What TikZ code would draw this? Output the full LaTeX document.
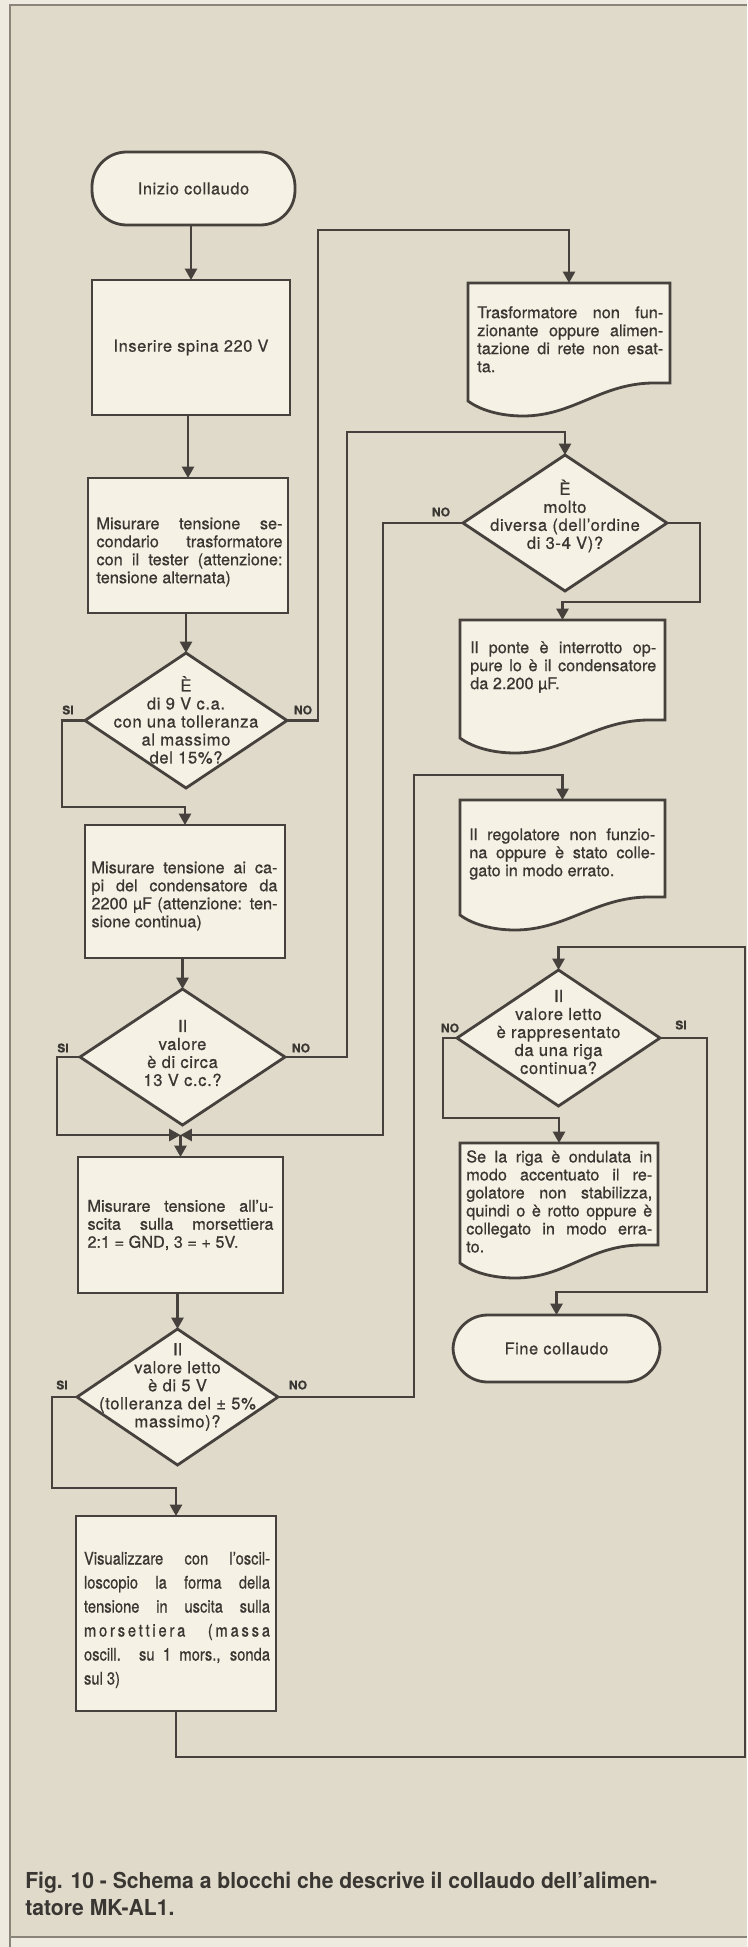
\documentclass[tikz,border=0pt]{standalone}
\usepackage{fontspec}
\setmainfont{TeX Gyre Heros}[FakeBold=0.6]
\newfontfamily\spfont{TeX Gyre Heros}[FakeBold=0.6,LetterSpace=3.5]
\newfontfamily\condfont{TeX Gyre Heros}[FakeStretch=0.85,FakeBold=0.6]
\newfontfamily\wcondfont{TeX Gyre Heros}[FakeStretch=0.85,FakeBold=0.6,LetterSpace=16]
\newfontfamily\capfont{TeX Gyre Heros}[FakeStretch=0.96]
\usetikzlibrary{arrows.meta,shapes.geometric,calc}
\definecolor{bgc}{HTML}{E0DACB}
\definecolor{edgec}{HTML}{EEEADF}
\definecolor{boxc}{HTML}{F5F1E4}
\definecolor{lc}{HTML}{46413C}
\definecolor{txc}{HTML}{3A3632}
\definecolor{framec}{HTML}{8A847A}
\newlength\tw
\setlength\tw{139.5pt}
\newcommand\jline[1]{\hbox to \tw{#1}}
\newcommand\lline[1]{\hbox to \tw{#1\hfil}}
\newcommand\txtlines[1]{\vbox{\hsize=\tw\baselineskip=13.5pt\lineskiplimit=-20pt\lineskip=0pt #1}}
\newcommand\docshape[1]{%
  \path[shapeln] (#1.north west) -- (#1.north east) -- (#1.south east)
   -- ($(#1.south east)+(-18,0)$)
   .. controls ($(#1.south east)+(-70,1)$) and ($(#1.south west)+(105,33)$) .. ($(#1.south west)+(55,33)$)
   .. controls ($(#1.south west)+(32,33)$) and ($(#1.south west)+(12,27)$) .. ($(#1.south west)+(0,18)$)
   -- cycle;}
\begin{document}
\begin{tikzpicture}[x=0.75pt,y=-0.75pt,
  sz/.style 2 args={minimum width={#1*0.75pt},minimum height={#2*0.75pt}},
  shapeln/.style={draw=lc,line width=2.1pt,fill=boxc,line join=miter},
  proc/.style={shapeln,rectangle,inner sep=0pt,outer sep=0pt,text=txc,
    font=\spfont\fontsize{12.3}{13.5}\selectfont},
  term/.style={proc,rounded corners=26pt},
  dec/.style={shapeln,diamond,inner sep=0pt,outer sep=0pt},
  ghost/.style={rectangle,inner sep=0pt,outer sep=0pt,draw=none},
  txt/.style={inner sep=0pt,text=txc,font=\fontsize{12.2}{13.5}\selectfont},
  dtxt/.style={txt,align=center,font=\spfont\fontsize{12.5}{13.5}\selectfont},
  lab/.style={inner sep=0pt,text=txc,font=\bfseries\fontsize{9}{10}\selectfont},
  ln/.style={draw=lc,line width=1.8pt},
  arr/.style={ln,-{Triangle[length=8.5pt,width=9pt]}}
]
\useasboundingbox (0,0) rectangle (747,1947);
\fill[edgec] (0,0) rectangle (747,1947);
\fill[bgc] (10,5) rectangle (747,1937);
\draw[framec,line width=0.8pt] (10,1947) -- (10,5) -- (747,5);
\draw[framec,line width=0.8pt] (10,1937) -- (747,1937);

% ---------- left column ----------
\node[term,sz={203}{73}] (t1) at (193.5,188.5) {Inizio collaudo};
\node[proc,sz={198}{135}] (b2) at (191,347.5) {Inserire spina 220 V};
\node[proc,sz={200}{135}] (b3) at (188,545.5) {};
\node[txt] (b3t) at (189.5,552) {\txtlines{\jline{Misurare tensione se-}\jline{condario trasformatore}\jline{con il tester (attenzione:}\lline{tensione alternata)}}};
\node[dec,sz={202}{135}] (d1) at (186,720.5) {};
\node[dtxt] (d1t) at (186,720) {È\\di 9 V c.a.\\con una tolleranza\\al massimo\\del 15\%?};
\node[proc,sz={200}{133}] (b4) at (185,891.5) {};
\node[txt] (b4t) at (184.5,896) {\txtlines{\jline{Misurare tensione ai ca-}\jline{pi del condensatore da}\jline{2200 µF (attenzione: ten-}\lline{sione continua)}}};
\node[dec,sz={205}{136}] (d2) at (182.5,1057) {};
\node[dtxt] (d2t) at (182.5,1053) {Il\\valore\\è di circa\\13 V c.c.?};
\node[proc,sz={205}{136}] (b5) at (180.5,1225) {};
\node[txt] (b5t) at (180.5,1225) {\txtlines{\jline{Misurare tensione all’u-}\jline{scita sulla morsettiera}\lline{2:1 = GND, 3 = + 5V.}}};
\node[dec,sz={201}{136}] (d3) at (177.5,1397) {};
\node[dtxt] (d3t) at (177.5,1387) {Il\\valore letto\\è di 5 V\\(tolleranza del ± 5\%\\massimo)?};
\node[proc,sz={200}{195}] (b6) at (176,1613.5) {};
\node[txt] (b6t) at (177,1620) {\condfont\fontsize{13}{18}\selectfont\vbox{\hsize=\tw\baselineskip=18pt\lineskiplimit=-20pt\lineskip=0pt
  \jline{Visualizzare con l’oscil-}\jline{loscopio la forma della}\jline{tensione in uscita sulla}\jline{\wcondfont morsettiera\hskip 0pt plus 1fil(massa}\jline{oscill. su 1 mors., sonda}\lline{sul 3)}}};

% ---------- right column ----------
\node[ghost,sz={202}{100}] (doc1) at (569,333) {};
\docshape{doc1}
\node[txt,anchor=north west] (doc1t) at (477,306) {\txtlines{\jline{Trasformatore non fun-}\jline{zionante oppure alimen-}\jline{tazione di rete non esat-}\lline{ta.}}};
\node[dec,sz={204}{136}] (dm) at (565,523) {};
\node[dtxt] (dmt) at (565,516) {È\\molto\\diversa (dell’ordine\\di 3-4 V)?};
\node[ghost,sz={205}{100}] (doc2) at (562.5,670) {};
\docshape{doc2}
\node[txt,anchor=north west] (doc2t) at (470,641) {\txtlines{\jline{Il ponte è interrotto op-}\jline{pure lo è il condensatore}\lline{da 2.200 µF.}}};
\node[ghost,sz={205}{97}] (doc3) at (562.5,848.5) {};
\docshape{doc3}
\node[txt,anchor=north west] (doc3t) at (469,828) {\txtlines{\jline{Il regolatore non funzio-}\jline{na oppure è stato colle-}\lline{gato in modo errato.}}};
\node[dec,sz={203}{136}] (d4) at (558.5,1038) {};
\node[dtxt] (d4t) at (558.5,1032) {Il\\valore letto\\è rappresentato\\da una riga\\continua?};
\node[ghost,sz={198}{102}] (doc4) at (559,1194) {};
\docshape{doc4}
\node[txt,anchor=north west] (doc4t) at (466,1150) {\txtlines{\jline{Se la riga è ondulata in}\jline{modo accentuato il re-}\jline{golatore non stabilizza,}\jline{quindi o è rotto oppure è}\jline{collegato in modo erra-}\lline{to.}}};
\node[term,sz={207}{67}] (t2) at (556.5,1348.5) {Fine collaudo};

% ---------- labels ----------
\node[lab] (si1) at (68,710) {SI};
\node[lab] (no1) at (303,710) {NO};
\node[lab] (si2) at (63,1048) {SI};
\node[lab] (no2) at (301,1048) {NO};
\node[lab] (si3) at (62,1385) {SI};
\node[lab] (no3) at (298,1385) {NO};
\node[lab] (nom) at (441,512) {NO};
\node[lab] (no4) at (450,1028) {NO};
\node[lab] (si4) at (681,1025) {SI};

% ---------- bend points ----------
\coordinate (c1) at (318,230);
\coordinate (c2) at (62,807);
\coordinate (c3) at (57,1135);
\coordinate (m) at (180.5,1135);
\coordinate (c4) at (347,432);
\coordinate (c5) at (383,1135);
\coordinate (c6) at (700,602);
\coordinate (c7) at (52,1488);
\coordinate (c8) at (414,775);
\coordinate (c9) at (745,1757);
\coordinate (c10) at (745,947);
\coordinate (c11) at (443,1118);
\coordinate (c12) at (707,1292);

% ---------- connectors ----------
\draw[arr] (t1.south -| b2.north) -- (b2.north);
\draw[arr] (b2.south -| b3.north) -- (b3.north);
\draw[arr] (b3.south -| d1.north) -- (d1.north);
\draw[arr] (d1.west) -| (c2) -| (b4.north);
\draw[arr] (d1.east) -| (c1) -| (doc1.north);
\draw[arr] (b4.south -| d2.north) -- (d2.north);
\draw[arr] (d2.west) -| (c3) -- (m);
\draw[arr] (d2.east) -| (c4) -| (dm.north);
\draw[arr] (dm.west) -| (c5) -- (m);
\draw[arr] (dm.east) -| (c6) -| (doc2.north);
\draw[arr] (m) -- (m |- b5.north);
\draw[arr] (b5.south -| d3.north) -- (d3.north);
\draw[arr] (d3.west) -| (c7) -| (b6.north);
\draw[arr] (d3.east) -| (c8) -| (doc3.north);
\draw[arr] (b6.south) |- (c9) -- (c10) -| (d4.north);
\draw[arr] (d4.west) -| (c11) -| (doc4.north);
\draw[arr] (d4.east) -| (c12) -| (t2.north);

% ---------- caption ----------
\node[inner sep=0pt,anchor=north west,text=txc,align=left,
  font=\capfont\bfseries\fontsize{16.5}{20}\selectfont] (cap) at (25,1872)
  {Fig. 10 - Schema a blocchi che descrive il collaudo dell’alimen-\\tatore MK-AL1.};
\end{tikzpicture}
\end{document}
